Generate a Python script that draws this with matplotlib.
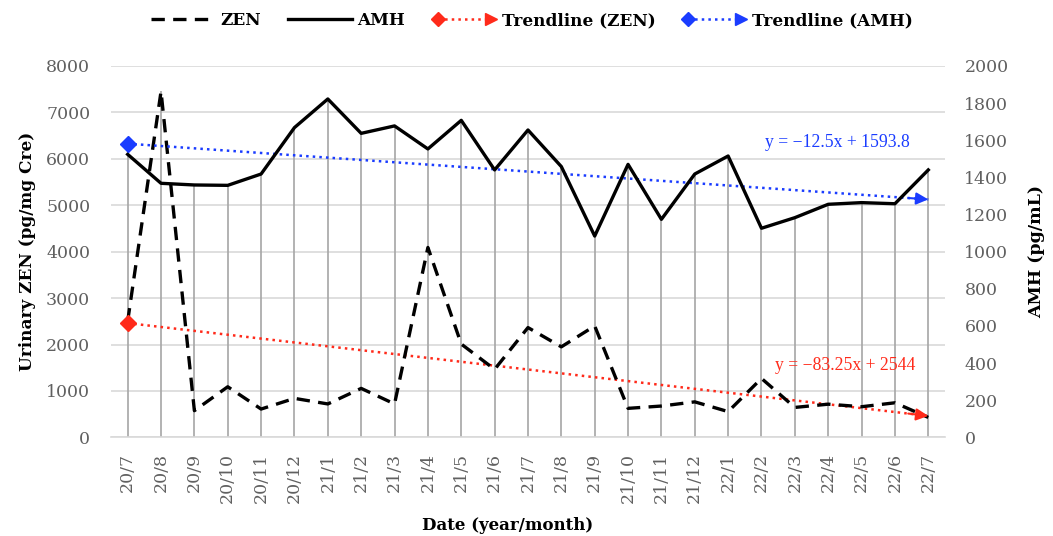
import numpy as np
import matplotlib
matplotlib.use("Agg")
import matplotlib.pyplot as plt
from matplotlib.lines import Line2D
from matplotlib.legend_handler import HandlerBase

months = ["20/7", "20/8", "20/9", "20/10", "20/11", "20/12",
          "21/1", "21/2", "21/3", "21/4", "21/5", "21/6", "21/7", "21/8", "21/9",
          "21/10", "21/11", "21/12", "22/1", "22/2", "22/3", "22/4", "22/5", "22/6", "22/7"]
zen = [2500, 7450, 575, 1090, 610, 840, 720, 1055, 720, 4090, 2010, 1465,
       2365, 1950, 2400, 625, 675, 765, 555, 1270, 645, 715, 660, 745, 430]
amh = [1524, 1368, 1359, 1357, 1418, 1668, 1822, 1637, 1677, 1553, 1707, 1440,
       1655, 1458, 1084, 1470, 1174, 1418, 1515, 1126, 1183, 1255, 1264, 1258, 1440]
# trendline coefficients shown on the chart (x = 1..25)
trend_zen = (-83.25, 2544)
trend_amh = (-12.5, 1593.8)

plt.rcParams['font.family'] = ['DejaVu Serif']
GRAY = "#606060"
RED = "#ff2a1a"
BLUE = "#1a3cff"


class TrendHandler(HandlerBase):
    def create_artists(self, legend, orig_handle, xdescent, ydescent,
                       width, height, fontsize, trans):
        c = orig_handle.get_color()
        y = height / 2 - ydescent
        x0, x1 = -xdescent + 4, -xdescent + width - 4
        line = Line2D([x0, x1], [y, y], ls=":", color=c, lw=1.8)
        dia = Line2D([x0], [y], marker="D", ms=7, color=c, ls="none")
        arr = Line2D([x1], [y], marker=">", ms=8, color=c, ls="none")
        for a in (line, dia, arr):
            a.set_transform(trans)
        return [line, dia, arr]


x = np.arange(len(months))
xt = x + 1

fig = plt.figure(figsize=(10.53, 5.36), dpi=100)
ax = fig.add_axes([0.1054, 0.184, 0.792, 0.693])
ax2 = ax.twinx()

ax.set_xlim(-0.5, len(months) - 0.5)
ax.set_ylim(0, 8000)
ax2.set_ylim(0, 2000)
ax.set_yticks(np.arange(0, 8001, 1000))
ax2.set_yticks(np.arange(0, 2001, 200))
ax.set_xticks(x)
ax.set_xticklabels(months, rotation=90)

ax.grid(axis="y", color="#d9d9d9", lw=1.2)
ax.set_axisbelow(True)

# drop lines from the higher of the two series down to the axis
top = np.maximum(np.array(zen), np.array(amh) * 4)
ax.vlines(x, 0, top, color="#a6a6a6", lw=1.2, zorder=1)

h_zen, = ax.plot(x, zen, color="black", lw=2.4, ls=(0, (4, 2.5)), label="ZEN", zorder=3)
h_amh, = ax2.plot(x, amh, color="black", lw=2.4, label="AMH", zorder=3)

tz = trend_zen[0] * xt + trend_zen[1]
ta = trend_amh[0] * xt + trend_amh[1]
h_tz, = ax.plot(x, tz, color=RED, lw=1.8, ls=":", label="Trendline (ZEN)", zorder=2)
ax.plot(x[0], tz[0], marker="D", ms=8, color=RED, zorder=4)
ax.annotate("", xy=(x[-1], tz[-1]), xytext=(x[-1] - 0.6, tz[-1] - trend_zen[0] * 0.6),
            arrowprops=dict(arrowstyle="-|>", color=RED, lw=1.5, mutation_scale=18,
                            shrinkA=0, shrinkB=0), zorder=4)
h_ta, = ax2.plot(x, ta, color=BLUE, lw=1.8, ls=":", label="Trendline (AMH)", zorder=2)
ax2.plot(x[0], ta[0], marker="D", ms=8, color=BLUE, zorder=4)
ax2.annotate("", xy=(x[-1], ta[-1]), xytext=(x[-1] - 0.6, ta[-1] - trend_amh[0] * 0.6),
             arrowprops=dict(arrowstyle="-|>", color=BLUE, lw=1.5, mutation_scale=18,
                             shrinkA=0, shrinkB=0), zorder=4)

eq_font = ['Liberation Serif', 'DejaVu Serif']
ax2.text(23.45, 1590, "y = \u221212.5x + 1593.8", color=BLUE, fontsize=12.7,
         family=eq_font, ha="right", va="center")
ax2.text(23.6, 388, "y = \u221283.25x + 2544", color=RED, fontsize=12.7,
         family=eq_font, ha="right", va="center")

for a in (ax, ax2):
    for s in a.spines.values():
        s.set_visible(False)
    a.tick_params(length=0, labelsize=12.5, colors=GRAY)
ax.tick_params(axis="y", pad=15)
ax2.tick_params(axis="y", pad=14)
ax.tick_params(axis="x", pad=11)
ax.spines["bottom"].set_visible(True)
ax.spines["bottom"].set_color("#d9d9d9")
ax.spines["bottom"].set_linewidth(1.2)

ax.set_ylabel("Urinary ZEN (pg/mg Cre)", fontsize=12.2, fontweight="bold", labelpad=7)
ax2.set_ylabel("AMH (pg/mL)", fontsize=12.5, fontweight="bold", labelpad=14)
ax.set_xlabel("Date (year/month)", fontsize=12, fontweight="bold")
ax.xaxis.set_label_coords(0.476, -0.215)

fig.legend([h_zen, h_amh, h_tz, h_ta],
           ["ZEN", "AMH", "Trendline (ZEN)", "Trendline (AMH)"],
           handler_map={h_tz: TrendHandler(), h_ta: TrendHandler()},
           loc="center", bbox_to_anchor=(0.505, 0.961), ncol=4, frameon=False,
           prop=dict(size=12.2, weight="bold"), handlelength=3.8, handletextpad=0.3,
           columnspacing=1.6)

fig.savefig("out.png", dpi=100)
